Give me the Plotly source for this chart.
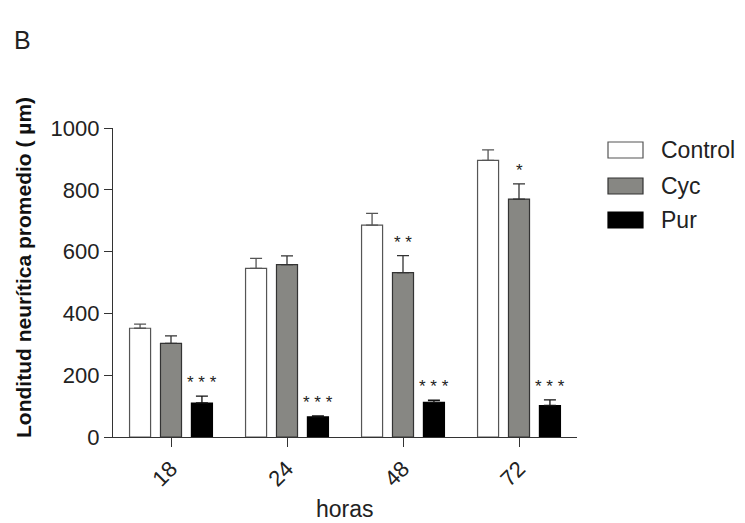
import plotly.graph_objects as go

horas = ["18", "24", "48", "72"]
series_names = ["Control", "Cyc", "Pur"]
control = [352, 546, 686, 895]
control_err = [13, 32, 38, 34]
cyc = [303, 558, 532, 770]
cyc_err = [24, 28, 55, 49]
pur = [110, 65, 112, 102]
pur_err = [22, 3, 7, 18]
stars = {
    "Cyc": ["", "", "**", "*"],
    "Pur": ["***", "***", "***", "***"],
}

values = [control, cyc, pur]
errors = [control_err, cyc_err, pur_err]
fills = ["#ffffff", "#878783", "#000000"]
borders = ["#555555", "#333333", "#000000"]
err_colors = ["#555555", "#333333", "#111111"]

FONT = "Liberation Sans, Arial"
TXT = "#222222"

xpos = list(range(len(horas)))
fig = go.Figure()
for name, v, e, fc, bc, ec in zip(series_names, values, errors, fills, borders, err_colors):
    fig.add_trace(go.Bar(
        x=xpos, y=v, name=name,
        marker=dict(color=fc, line=dict(color=bc, width=1.2)),
        error_y=dict(type="data", symmetric=False, array=e, arrayminus=[0] * len(e),
                     color=ec, thickness=1.3, width=6),
        showlegend=False,
    ))

bargap = 0.2
slot = (1 - bargap) / len(series_names)
annotations = []
for j, name in enumerate(series_names):
    if name not in stars:
        continue
    for i, s in enumerate(stars[name]):
        if not s:
            continue
        annotations.append(dict(
            x=i + (j - 1) * slot, y=values[j][i] + errors[j][i], xref="x", yref="y",
            text=" ".join(s), showarrow=False, yanchor="bottom", yshift=2,
            font=dict(family=FONT, size=17, color=TXT),
        ))

# plot-area pixel geometry (window coordinates) -> paper coordinates
PL, PR, PT, PB = 113, 577, 128, 437


def px_x(px):
    return (px - PL) / (PR - PL)


def px_y(py):
    return (PB - py) / (PB - PT)


annotations.append(dict(
    text="<b>Londitud neurítica promedio ( µm)</b>", textangle=-90, showarrow=False,
    xref="paper", yref="paper", x=px_x(23), y=px_y(268), xanchor="center", yanchor="middle",
    font=dict(family=FONT, size=21, color="#111111"),
))
annotations.append(dict(
    text="horas", showarrow=False, xref="paper", yref="paper",
    x=px_x(345), y=px_y(509), xanchor="center", yanchor="middle",
    font=dict(family=FONT, size=23, color=TXT),
))
annotations.append(dict(
    text="B", showarrow=False, xref="paper", yref="paper",
    x=px_x(12), y=px_y(40), xanchor="left", yanchor="middle",
    font=dict(family=FONT, size=25, color=TXT),
))

# custom legend
shapes = []
legend_y = [150, 186, 220]
for name, fc, bc, ly in zip(series_names, fills, borders, legend_y):
    shapes.append(dict(type="rect", xref="paper", yref="paper",
                       x0=px_x(608), x1=px_x(643), y0=px_y(ly + 8), y1=px_y(ly - 8),
                       fillcolor=fc, line=dict(color=bc, width=1.2)))
    annotations.append(dict(text=name, showarrow=False, xref="paper", yref="paper",
                            x=px_x(659), y=px_y(ly), xanchor="left", yanchor="middle",
                            font=dict(family=FONT, size=23, color=TXT)))

# page body has an 8px margin: shrink the figure so plot area lands on target pixels
OFF = 8
W, H = 745 - OFF, 523 - OFF
fig.update_layout(
    width=W, height=H,
    margin=dict(l=PL - OFF, r=745 - PR, t=PT - OFF, b=523 - PB),
    paper_bgcolor="white", plot_bgcolor="white",
    barmode="group", bargap=bargap, bargroupgap=0.32,
    font=dict(family=FONT, color=TXT),
    annotations=annotations, shapes=shapes,
    xaxis=dict(range=[-0.5, 3.5], tickvals=xpos, ticktext=horas, tickangle=-45,
               showline=True, linecolor="#333333", linewidth=1.3, ticks="outside",
               ticklen=9, tickwidth=1.3, tickcolor="#333333", showgrid=False, zeroline=False,
               tickfont=dict(size=22, color=TXT)),
    yaxis=dict(range=[0, 1000], tickvals=[0, 200, 400, 600, 800, 1000],
               showline=True, linecolor="#333333", linewidth=1.3, ticks="outside",
               ticklen=8, tickwidth=1.3, tickcolor="#333333", showgrid=False, zeroline=False,
               tickfont=dict(size=22, color=TXT)),
)

fig.write_html("out.html")
